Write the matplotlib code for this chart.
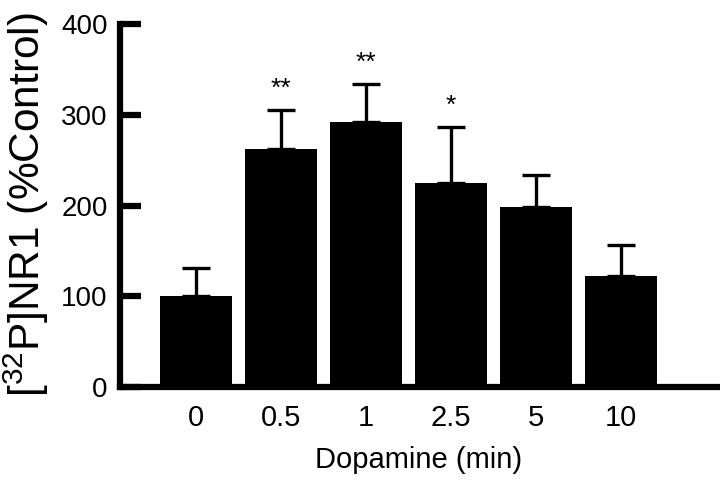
import numpy as np
import matplotlib
matplotlib.use("Agg")
import matplotlib.pyplot as plt

plt.rcParams['font.family'] = ['Liberation Sans', 'DejaVu Sans']
plt.rcParams['mathtext.fontset'] = 'custom'
plt.rcParams['mathtext.rm'] = 'Liberation Sans'
plt.rcParams['mathtext.it'] = 'Liberation Sans'
plt.rcParams['mathtext.bf'] = 'Liberation Sans:bold'

# data
zeit = ["0", "0.5", "1", "2.5", "5", "10"]
werte = [101, 263, 292, 225, 199, 122]
fehler = [30, 42, 42, 62, 35, 35]
sterne = ["", "**", "**", "*", "", ""]

x = np.arange(len(zeit))

fig = plt.figure(figsize=(7.2, 4.84), dpi=100)
ax = fig.add_axes([0.167, 0.2, 0.829, 0.75])

ax.bar(x, werte, width=0.85, color="black", zorder=2)
ax.errorbar(x, werte, yerr=[np.zeros(len(fehler)), fehler], fmt="none",
            ecolor="black", elinewidth=2.4, capsize=10, capthick=2.4, zorder=1)

# Sternchen ueber den Fehlerbalken
for xi, w, f, s in zip(x, werte, fehler, sterne):
    if s:
        ax.text(xi, w + f + 10, s, ha="center", va="bottom", fontsize=19)

ax.set_xlim(-0.89, 6.13)
ax.set_ylim(0, 400)
ax.set_yticks([0, 100, 200, 300, 400])
ax.set_xticks(x)
ax.set_xticklabels(zeit)

for s in ["top", "right"]:
    ax.spines[s].set_visible(False)
ax.spines["left"].set_linewidth(4.5)
ax.spines["bottom"].set_linewidth(4.5)
ax.spines["left"].set_capstyle("projecting")

ax.tick_params(axis="y", direction="in", length=15, width=4.5, pad=9, labelsize=20)
ax.tick_params(axis="x", length=0, pad=12, labelsize=21)

ax.set_xlabel("Dopamine (min)", fontsize=21, labelpad=10)
fig.text(0.036, 0.578, "[$^{32}$P]NR1 (%Control)", rotation=90,
         ha="center", va="center", fontsize=30.5)

fig.savefig("out.png", dpi=100)
